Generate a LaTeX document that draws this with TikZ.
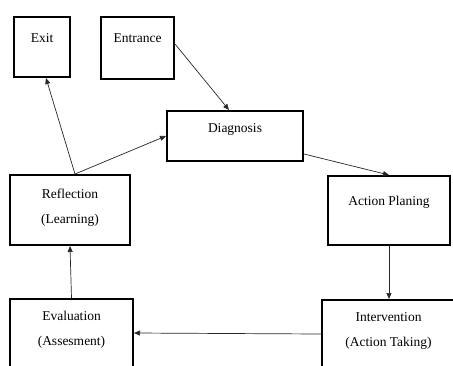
\documentclass[tikz,border=0pt]{standalone}
\usepackage{fontspec}
\setmainfont{Liberation Serif}
\usetikzlibrary{arrows.meta}
\tikzset{
  box/.style={draw, line width=2pt, align=center, inner sep=0pt, font=\fontsize{13.5}{25}\selectfont},
  arr/.style={draw=black!85, line width=0.7pt, -{Triangle[length=6pt,width=5pt]}}
}
\begin{document}
\begin{tikzpicture}[x=1pt, y=-1pt]
    \useasboundingbox (0,0) rectangle (453,365);
    \node[box, minimum width=56, minimum height=60, text depth=17pt] (exit) at (42,47) {Exit};
    \node[box, minimum width=73, minimum height=62, text depth=19pt] (entrance) at (137.5,48) {Entrance};
    \node[box, minimum width=136, minimum height=50, text depth=15pt] (diag) at (235,136) {Diagnosis};
    \node[box, minimum width=122, minimum height=69, text depth=19pt] (plan) at (389,210.5) {Action Planing};
    \node[box, minimum width=133, minimum height=68, text depth=8pt] (interv) at (388.5,334) {Intervention\\(Action Taking)};
    \node[box, minimum width=123, minimum height=68, text depth=10pt] (eval) at (71.5,333) {Evaluation\\(Assesment)};
    \node[box, minimum width=120, minimum height=70, text depth=7pt] (refl) at (70,210) {Reflection\\(Learning)};
    \draw[arr] ([yshift=4]entrance.east) -- ([xshift=-6]diag.north);
    \draw[arr] ([yshift=-18]diag.east) -- (plan.north);
    \draw[arr] (plan.south) -- (plan.south |- interv.north);
    \draw[arr] (interv.west) -- (eval.east);
    \draw[arr] (eval.north) -- (refl.south);
    \draw[arr] ([xshift=5]refl.north) -- ([xshift=4]exit.south);
    \draw[arr] ([xshift=5]refl.north) -- (diag.west);
\end{tikzpicture}
\end{document}
